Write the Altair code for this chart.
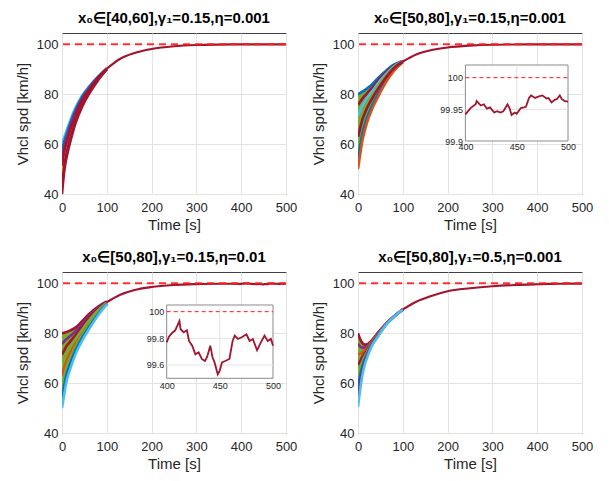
import altair as alt
import pandas as pd

FONT = "Liberation Sans"
BLUE, ORANGE, YELLOW, PURPLE = "#0072BD", "#D95319", "#EDB120", "#7E2F8E"
GREEN, CYAN, RED = "#77AC30", "#4DBEEE", "#A2142F"
REF_RED = "#FF1A1A"

# ---------------- data ----------------
TITLES = [
    "x₀∈[40,60],γ₁=0.15,η=0.001",
    "x₀∈[50,80],γ₁=0.15,η=0.001",
    "x₀∈[50,80],γ₁=0.15,η=0.01",
    "x₀∈[50,80],γ₁=0.5,η=0.001",
]
X_TICKS = [0, 100, 200, 300, 400, 500]
Y_TICKS = [40, 60, 80, 100]
REF_LEVEL = [100]

T_EARLY = [0, 5, 10, 15, 20, 30, 45, 60, 80, 100]
T_TAIL = [100, 130, 160, 200, 250, 300, 350]

# panel 1 : trajectories bottom -> top
P1_TRAJ = [
    [40.0, 49.2, 54.5, 58.5, 62.0, 68.3, 75.0, 80.0, 85.5, 90.0],
    [42.9, 51.1, 56.0, 59.8, 63.2, 69.2, 75.6, 80.4, 85.7, 90.0],
    [45.7, 53.1, 57.6, 61.2, 64.4, 70.1, 76.3, 80.9, 85.9, 90.1],
    [48.6, 55.0, 59.1, 62.5, 65.6, 71.0, 76.9, 81.3, 86.1, 90.1],
    [51.4, 57.0, 60.7, 63.8, 66.7, 71.8, 77.6, 81.7, 86.4, 90.2],
    [54.3, 58.9, 62.2, 65.1, 67.9, 72.7, 78.2, 82.1, 86.6, 90.2],
    [57.1, 60.9, 63.8, 66.5, 69.1, 73.6, 78.9, 82.6, 86.8, 90.3],
    [60.0, 62.8, 65.3, 67.8, 70.3, 74.5, 79.5, 83.0, 87.0, 90.3],
]
P1_COLORS = [RED, RED, YELLOW, ORANGE, RED, PURPLE, BLUE, CYAN]
P1_ORDER = [7, 6, 5, 3, 2, 4, 1, 0]
P1_TAIL = [90.2, 94.2, 96.4, 98.1, 99.2, 99.7, 99.88]
P1_NOISE_T = [400, 420, 440, 460, 480, 500]
P1_NOISE_V = [99.95, 99.96, 99.95, 99.97, 99.96, 99.96]

# panel 2
P2_TRAJ = [
    [50.0, 56.0, 61.5, 65.3, 68.5, 73.3, 79.0, 84.0, 89.3, 92.8],
    [54.3, 59.5, 64.3, 67.6, 70.5, 74.8, 80.1, 84.7, 89.7, 92.9],
    [58.6, 63.0, 67.1, 70.0, 72.4, 76.3, 81.1, 85.4, 90.0, 92.9],
    [62.9, 66.5, 69.9, 72.3, 74.4, 77.8, 82.2, 86.1, 90.4, 93.0],
    [67.1, 70.0, 72.6, 74.6, 76.4, 79.2, 83.3, 86.9, 90.7, 93.1],
    [71.4, 73.5, 75.4, 76.9, 78.4, 80.7, 84.4, 87.6, 91.1, 93.2],
    [75.7, 77.0, 78.2, 79.3, 80.3, 82.2, 85.4, 88.3, 91.4, 93.2],
    [80.0, 80.5, 81.0, 81.6, 82.3, 83.7, 86.5, 89.0, 91.8, 93.3],
]
P2_COLORS = [ORANGE, BLUE, GREEN, RED, GREEN, CYAN, RED, BLUE]
P2_ORDER = [7, 6, 5, 4, 2, 1, 0, 3]
P2_TAIL = [93.1, 95.9, 97.5, 98.7, 99.45, 99.8, 99.9]
P2_NOISE_T = [400, 405, 410, 411, 415, 418, 421, 424, 428, 431, 434, 437, 441, 443,
              445, 448, 450, 454, 457, 459, 462, 464, 468, 471, 475, 479, 481, 484,
              487, 489, 492, 494, 497, 500]
P2_NOISE_V = [99.942, 99.952, 99.958, 99.963, 99.956, 99.958, 99.951, 99.953, 99.945,
              99.947, 99.945, 99.947, 99.958, 99.952, 99.941, 99.945, 99.943, 99.952,
              99.953, 99.954, 99.968, 99.972, 99.968, 99.970, 99.972, 99.967, 99.968,
              99.961, 99.965, 99.966, 99.972, 99.966, 99.963, 99.962]

# panel 3
P3_TRAJ = [
    [50.0, 55.5, 60.5, 63.8, 66.5, 71.5, 77.0, 81.5, 87.0, 91.5],
    [54.3, 59.0, 63.4, 66.2, 68.6, 73.0, 78.1, 82.4, 87.5, 91.7],
    [58.6, 62.6, 66.2, 68.7, 70.7, 74.6, 79.2, 83.2, 88.0, 91.8],
    [62.9, 66.1, 69.1, 71.1, 72.8, 76.1, 80.3, 84.1, 88.5, 92.0],
    [67.1, 69.6, 71.9, 73.5, 74.9, 77.6, 81.5, 85.0, 89.1, 92.2],
    [71.4, 73.1, 74.8, 75.9, 77.0, 79.1, 82.6, 85.9, 89.6, 92.4],
    [75.7, 76.7, 77.6, 78.4, 79.1, 80.7, 83.7, 86.7, 90.1, 92.5],
    [80.0, 80.2, 80.5, 80.8, 81.2, 82.2, 84.8, 87.6, 90.6, 92.7],
]
P3_COLORS = [CYAN, BLUE, GREEN, ORANGE, GREEN, RED, PURPLE, RED]
P3_ORDER = [7, 6, 5, 3, 4, 2, 1, 0]
P3_TAIL = [92.4, 95.4, 97.2, 98.5, 99.3, 99.65, 99.8]
P3_NOISE_T = [400, 402, 405, 408, 412, 413, 416, 419, 421, 424, 427, 430, 433, 436,
              438, 441, 443, 445, 448, 450, 452, 455, 459, 462, 464, 467, 471, 475,
              478, 481, 485, 488, 492, 495, 498, 500]
P3_NOISE_V = [99.77, 99.81, 99.84, 99.86, 99.93, 99.87, 99.845, 99.86, 99.78, 99.745,
              99.68, 99.695, 99.645, 99.63, 99.66, 99.745, 99.66, 99.62, 99.53, 99.56,
              99.62, 99.63, 99.645, 99.78, 99.82, 99.795, 99.81, 99.83, 99.78, 99.795,
              99.71, 99.76, 99.82, 99.78, 99.795, 99.745]

# panel 4
P4_TRAJ = [
    [50.5, 57.5, 63.3, 67.3, 70.0, 74.5, 78.8, 82.8, 86.5, 89.5],
    [54.7, 60.4, 65.1, 68.5, 70.8, 74.9, 79.0, 82.9, 86.5, 89.5],
    [58.9, 63.2, 66.9, 69.6, 71.6, 75.2, 79.2, 82.9, 86.6, 89.5],
    [63.2, 66.1, 68.7, 70.8, 72.4, 75.6, 79.4, 83.0, 86.6, 89.5],
    [67.3, 68.9, 70.6, 71.9, 73.1, 75.9, 79.7, 83.1, 86.6, 89.5],
    [71.6, 71.8, 72.4, 73.1, 73.9, 76.3, 79.9, 83.2, 86.6, 89.5],
    [75.8, 74.6, 74.2, 74.2, 74.7, 76.6, 80.1, 83.2, 86.7, 89.5],
    [80.0, 77.5, 76.0, 75.4, 75.5, 77.0, 80.3, 83.3, 86.7, 89.5],
]
P4_COLORS = [CYAN, PURPLE, BLUE, GREEN, RED, ORANGE, PURPLE, RED]
P4_ORDER = [7, 6, 5, 4, 3, 2, 1, 0]
P4_TAIL = [89.5, 92.6, 94.7, 96.8, 98.0, 98.8, 99.3]
P4_NOISE_T = [400, 425, 450, 475, 500]
P4_NOISE_V = [99.6, 99.72, 99.8, 99.85, 99.88]

# insets
INSET_X_DOMAIN = [400, 500]
INSET_X_TICKS = [400, 450, 500]
P2_INSET_Y_DOMAIN = [99.9, 100.02]
P2_INSET_Y_TICKS = [99.9, 99.95, 100]
P2_INSET_GRID_Y = [99.95]
P3_INSET_Y_DOMAIN = [99.5, 100.05]
P3_INSET_Y_TICKS = [99.6, 99.8, 100]
P3_INSET_GRID_Y = [99.6, 99.8]
INSET_GRID_X = [450]

# ---------------- layout / style ----------------
W, H = 224, 161
XS = alt.Scale(domain=[0, 500], nice=False, zero=False)
YS = alt.Scale(domain=[40, 104.5], nice=False, zero=False)
TXT = "#262626"
GRID = "#E3E3E3"

XA = alt.Axis(values=X_TICKS, title="Time [s]", grid=True, ticks=False, domain=False,
              labelFlush=False, labelFontSize=13, titleFontSize=15, labelPadding=7,
              titlePadding=3, titleFontWeight="normal", labelColor=TXT, titleColor=TXT,
              gridColor=GRID, labelFont=FONT, titleFont=FONT)
YA = alt.Axis(values=Y_TICKS, title="Vhcl spd [km/h]", grid=True, ticks=False, domain=False,
              labelFontSize=13, titleFontSize=15, labelPadding=4, titlePadding=6,
              titleFontWeight="normal", labelColor=TXT, titleColor=TXT, gridColor=GRID,
              labelFont=FONT, titleFont=FONT)


def main_layer(traj, colors, order, band_color, tail, nt, nv):
    band_df = pd.DataFrame({"t": T_EARLY, "lo": traj[0], "hi": traj[-1]})
    tail_df = pd.DataFrame({"t": T_TAIL + nt, "v": tail + nv})
    ref_df = pd.DataFrame({"r": REF_LEVEL})

    layers = [alt.Chart(band_df).mark_area(color=band_color, interpolate="monotone", clip=True).encode(
        x=alt.X("t:Q", scale=XS, axis=XA), y=alt.Y("lo:Q", scale=YS, axis=YA), y2="hi:Q")]
    for idx in order:
        df = pd.DataFrame({"t": T_EARLY, "v": traj[idx]})
        layers.append(alt.Chart(df).mark_line(strokeWidth=2.6, interpolate="monotone", clip=True,
                                              color=colors[idx]).encode(
            x=alt.X("t:Q", scale=XS, axis=XA), y=alt.Y("v:Q", scale=YS, axis=YA)))
    layers.append(alt.Chart(tail_df).mark_line(strokeWidth=2.2, color=RED, interpolate="monotone",
                                               clip=True).encode(
        x=alt.X("t:Q", scale=XS, axis=XA), y=alt.Y("v:Q", scale=YS, axis=YA)))
    layers.append(alt.Chart(ref_df).mark_rule(color=REF_RED, strokeDash=[7, 5], strokeWidth=2,
                                              opacity=0.9).encode(
        y=alt.Y("r:Q", scale=YS, axis=YA)))
    return alt.layer(*layers)


def inset_layer(ydom, yticks, gridy, nt, nv, xrange, yrange, lab_pad):
    xs = alt.Scale(domain=INSET_X_DOMAIN, range=xrange, nice=False, zero=False)
    ys = alt.Scale(domain=ydom, range=yrange, nice=False, zero=False)
    xa = alt.Axis(values=INSET_X_TICKS, title=None, grid=False, ticks=False, domain=False,
                  labelFlush=False, labelFontSize=9, labelPadding=lab_pad, labelColor=TXT,
                  labelFont=FONT, orient="bottom", offset=-(H - yrange[0]))
    ya = alt.Axis(values=yticks, title=None, grid=False, ticks=False, domain=False, format=".4~g",
                  labelFontSize=9, labelPadding=3, labelColor=TXT, labelFont=FONT,
                  orient="left", offset=-xrange[0])
    frame_df = pd.DataFrame({"x0": [INSET_X_DOMAIN[0]], "x1": [INSET_X_DOMAIN[1]],
                             "y0": [ydom[0]], "y1": [ydom[1]]})
    gx_df = pd.DataFrame({"gx": INSET_GRID_X, "y0": [ydom[0]], "y1": [ydom[1]]})
    gy_df = pd.DataFrame({"gy": gridy, "x0": [INSET_X_DOMAIN[0]] * len(gridy),
                          "x1": [INSET_X_DOMAIN[1]] * len(gridy)})
    ref_df = pd.DataFrame({"r": REF_LEVEL, "x0": [INSET_X_DOMAIN[0]], "x1": [INSET_X_DOMAIN[1]]})
    noise_df = pd.DataFrame({"t": nt, "v": nv})

    frame = alt.Chart(frame_df).mark_rect(fill="white", stroke="#8a8a8a", strokeWidth=1).encode(
        x=alt.X("x0:Q", scale=xs, axis=xa), x2="x1:Q", y=alt.Y("y0:Q", scale=ys, axis=ya), y2="y1:Q")
    gxl = alt.Chart(gx_df).mark_rule(color=GRID, strokeWidth=1).encode(
        x=alt.X("gx:Q", scale=xs, axis=xa), y=alt.Y("y0:Q", scale=ys, axis=ya), y2="y1:Q")
    gyl = alt.Chart(gy_df).mark_rule(color=GRID, strokeWidth=1).encode(
        y=alt.Y("gy:Q", scale=ys, axis=ya), x=alt.X("x0:Q", scale=xs, axis=xa), x2="x1:Q")
    refl = alt.Chart(ref_df).mark_rule(color=REF_RED, strokeDash=[4, 3], strokeWidth=1).encode(
        y=alt.Y("r:Q", scale=ys, axis=ya), x=alt.X("x0:Q", scale=xs, axis=xa), x2="x1:Q")
    noise = alt.Chart(noise_df).mark_line(color=RED, strokeWidth=1.8).encode(
        x=alt.X("t:Q", scale=xs, axis=xa), y=alt.Y("v:Q", scale=ys, axis=ya))
    return alt.layer(frame, gxl, gyl, refl, noise)


def titled(ch, text):
    return ch.properties(width=W, height=H, title=alt.Title(
        text, fontSize=15, fontWeight="bold", color="black", font=FONT, offset=7, anchor="middle"))


p1 = titled(main_layer(P1_TRAJ, P1_COLORS, P1_ORDER, RED, P1_TAIL, P1_NOISE_T, P1_NOISE_V), TITLES[0])
p2 = titled(alt.layer(
    main_layer(P2_TRAJ, P2_COLORS, P2_ORDER, GREEN, P2_TAIL, P2_NOISE_T, P2_NOISE_V),
    inset_layer(P2_INSET_Y_DOMAIN, P2_INSET_Y_TICKS, P2_INSET_GRID_Y, P2_NOISE_T, P2_NOISE_V,
                [107.4, 210], [108, 32], 1),
).resolve_scale(x="independent", y="independent"), TITLES[1])
p3 = titled(alt.layer(
    main_layer(P3_TRAJ, P3_COLORS, P3_ORDER, GREEN, P3_TAIL, P3_NOISE_T, P3_NOISE_V),
    inset_layer(P3_INSET_Y_DOMAIN, P3_INSET_Y_TICKS, P3_INSET_GRID_Y, P3_NOISE_T, P3_NOISE_V,
                [104.7, 211], [106.3, 33], 3),
).resolve_scale(x="independent", y="independent"), TITLES[2])
p4 = titled(main_layer(P4_TRAJ, P4_COLORS, P4_ORDER, GREEN, P4_TAIL, P4_NOISE_T, P4_NOISE_V), TITLES[3])

chart = alt.concat(p1, p2, p3, p4, columns=2, spacing={"row": 78, "column": 72}, bounds="flush").properties(
    padding={"left": 6, "top": 2, "right": 0, "bottom": 0}
).configure_view(stroke="#404040", strokeWidth=1)

chart.save("out.html", embed_options={"renderer": "svg", "actions": False})
